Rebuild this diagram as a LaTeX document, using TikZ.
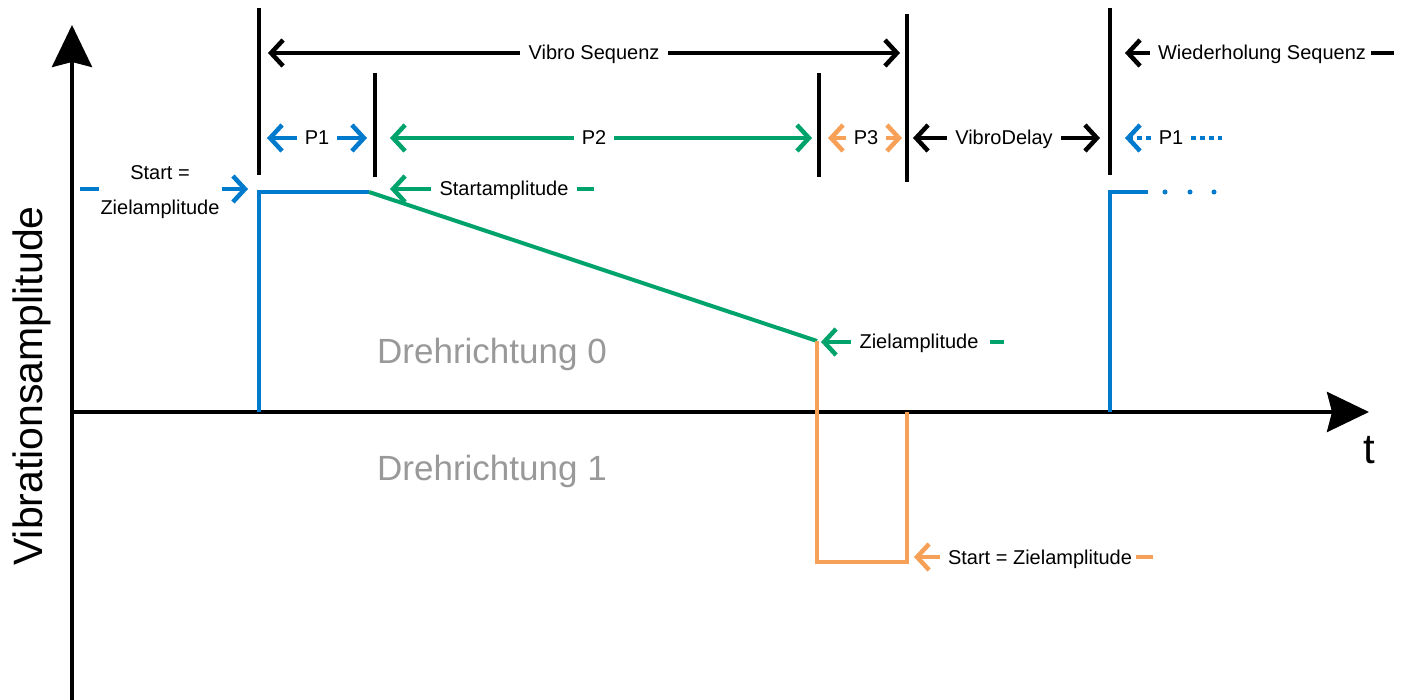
\documentclass[tikz,border=0pt]{standalone}
\usepackage{fontspec}
\setmainfont{Liberation Sans}
\usepackage{tikz}
\usepackage{xcolor}
\usetikzlibrary{arrows.meta,positioning,calc}
\definecolor{pblue}{RGB}{0,122,204}
\definecolor{pgreen}{RGB}{0,163,108}
\definecolor{porange}{RGB}{247,161,88}
\definecolor{dirgray}{RGB}{153,153,153}

\begin{document}
\begin{tikzpicture}[x=1pt,y=-1pt,
    lbl/.style={font=\fontsize{20}{24}\selectfont, inner xsep=8pt, inner ysep=0pt, text height=15pt, text depth=1pt},
    dimarr/.style={line width=4.5pt, -{Straight Barb[length=12pt,width=26pt]}},
    divider/.style={line width=4.5pt},
    sig/.style={line width=4pt},
    axis/.style={line width=4pt, -{Stealth[length=42pt,width=40pt,inset=5pt]}}]
    \useasboundingbox (0,0) rectangle (1408,700);

    % Axes
    \coordinate (yb) at (72,700);
    \coordinate (yt) at (72,25);
    \coordinate (O) at (72,412);
    \coordinate (xt) at (1369,412);
    \draw[axis] (yb) -- (yt);
    \draw[axis] (O) -- (xt);
    \node[font=\fontsize{42}{46}\selectfont, anchor=base] (tlbl) at (1369,463) {t};
    \node[font=\fontsize{41}{46}\selectfont, rotate=90, anchor=base] (ylbl) at (42,386) {Vibrationsamplitude};
    \node[font=\fontsize{35}{40}\selectfont, text=dirgray, anchor=base] (dir0) at (492,363) {Drehrichtung 0};
    \node[font=\fontsize{35}{40}\selectfont, text=dirgray, anchor=base] (dir1) at (492,480) {Drehrichtung 1};

    % Section dividers
    \foreach \x/\top/\bot in {259/8/175, 375/73/177, 819/73/177, 907/14/182, 1110/8/175}
        \draw[divider] (\x,\top) -- (\x,\bot);

    % Signal
    \draw[sig, pblue] (259,412) -- (259,192) -- (369,192);
    \draw[sig, pgreen] (369,192) -- (817,341);
    \draw[sig, porange] (817,341) -- (817,562) -- (907,562) -- (907,412);
    \draw[sig, pblue] (1110,412) -- (1110,192) -- (1148,192);
    \foreach \x in {1165,1190,1214}
        \fill[pblue] (\x,192) circle (2.5);

    % Sequence spans
    \node[lbl] (vs) at (594,53) {Vibro Sequenz};
    \coordinate (vsL) at (268,53);
    \coordinate (vsR) at (900,53);
    \draw[dimarr] (vs) -- (vsL);
    \draw[dimarr] (vs) -- (vsR);

    \node[lbl] (ws) at (1262,53) {Wiederholung Sequenz};
    \coordinate (wsL) at (1125,53);
    \draw[dimarr] (ws) -- (wsL);
    \draw[line width=4.5pt] ([xshift=-3pt]ws.east) -- ([xshift=20pt]ws.east);

    % Phases
    \node[lbl] (p1) at (317,138) {P1};
    \coordinate (p1L) at (267,138);
    \coordinate (p1R) at (367,138);
    \draw[dimarr, pblue] (p1) -- (p1L);
    \draw[dimarr, pblue] (p1) -- (p1R);

    \node[lbl] (p2) at (594,138) {P2};
    \coordinate (p2L) at (390,138);
    \coordinate (p2R) at (812,138);
    \draw[dimarr, pgreen] (p2) -- (p2L);
    \draw[dimarr, pgreen] (p2) -- (p2R);

    \node[lbl] (p3) at (866,138) {P3};
    \coordinate (p3L) at (828,138);
    \coordinate (p3R) at (902,138);
    \draw[dimarr, porange] (p3) -- (p3L);
    \draw[dimarr, porange] (p3) -- (p3R);

    \node[lbl] (vd) at (1004,138) {VibroDelay};
    \coordinate (vdL) at (913,138);
    \coordinate (vdR) at (1100,138);
    \draw[dimarr] (vd) -- (vdL);
    \draw[dimarr] (vd) -- (vdR);

    \node[lbl] (p1b) at (1171,138) {P1};
    \coordinate (p1bL) at (1125,138);
    \coordinate (p1bR) at (1222,138);
    \draw[dimarr, pblue, dash pattern=on 5pt off 4pt] (p1b) -- (p1bL);
    \draw[line width=4.5pt, pblue, dash pattern=on 5pt off 4pt] (p1b) -- (p1bR);

    % Amplitude labels
    \node[font=\fontsize{20}{35}\selectfont, align=center, inner xsep=2pt, inner ysep=0pt] (sz) at (160,192) {Start =\\Zielamplitude};
    \coordinate (szT) at (248,189);
    \draw[dimarr, pblue] (sz.east |- szT) -- (szT);
    \draw[line width=4.5pt, pblue] ([xshift=1pt]sz.west |- szT) -- ([xshift=-18pt]sz.west |- szT);

    \node[lbl] (sa) at (504,189) {Startamplitude};
    \coordinate (saT) at (390,189);
    \draw[dimarr, pgreen] (sa) -- (saT);
    \draw[line width=4.5pt, pgreen] (sa.east) -- ([xshift=17pt]sa.east);

    \node[lbl] (za) at (919,342) {Zielamplitude};
    \coordinate (zaT) at (821,342);
    \draw[dimarr, pgreen] (za) -- (zaT);
    \draw[line width=4.5pt, pgreen] ([xshift=3pt]za.east) -- ([xshift=17pt]za.east);

    \node[lbl] (oz) at (1040,557) {Start = Zielamplitude};
    \coordinate (ozT) at (914,557);
    \draw[dimarr, porange] (oz) -- (ozT);
    \draw[line width=4.5pt, porange] ([xshift=-4pt]oz.east) -- ([xshift=13pt]oz.east);
\end{tikzpicture}
\end{document}
